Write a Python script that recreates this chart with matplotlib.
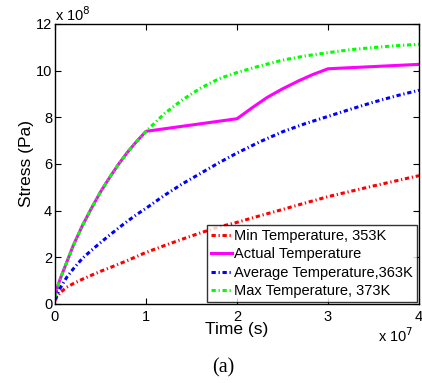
import matplotlib
matplotlib.use("Agg")
import matplotlib.pyplot as plt

plt.rcParams['font.family'] = ['Liberation Sans', 'DejaVu Sans']

# time in units of 1e7 s, stress in units of 1e8 Pa
t_smooth = [0, 0.02, 0.06, 0.13, 0.2, 0.3, 0.4, 0.5, 0.6, 0.7, 0.8, 0.9, 1.0,
            1.2, 1.4, 1.6, 1.8, 2.0, 2.25, 2.5, 2.75, 3.0, 3.25, 3.5, 3.75, 4.0]
min_temp = [0.15, 0.29, 0.5, 0.72, 0.87, 1.06, 1.23, 1.4, 1.55, 1.71, 1.87, 2.04, 2.21,
            2.5, 2.78, 3.05, 3.3, 3.5, 3.78, 4.05, 4.33, 4.6, 4.83, 5.06, 5.28, 5.5]
avg_temp = [0.2, 0.36, 0.7, 1.15, 1.5, 1.95, 2.3, 2.63, 2.95, 3.26, 3.56, 3.84, 4.1,
            4.65, 5.15, 5.6, 6.05, 6.47, 6.95, 7.38, 7.73, 8.04, 8.35, 8.65, 8.92, 9.16]
max_temp = [0.3, 0.65, 1.1, 1.8, 2.5, 3.35, 4.1, 4.8, 5.42, 6.0, 6.52, 6.98, 7.4,
            8.15, 8.75, 9.25, 9.65, 9.92, 10.2, 10.45, 10.63, 10.77, 10.9, 10.99, 11.07, 11.13]
t_actual = [0, 0.02, 0.06, 0.13, 0.2, 0.3, 0.4, 0.5, 0.6, 0.7, 0.8, 0.9, 1.0,
            2.0, 2.17, 2.33, 2.5, 2.67, 2.83, 3.0, 4.0]
actual_temp = [0.3, 0.65, 1.1, 1.8, 2.5, 3.35, 4.1, 4.8, 5.42, 6.0, 6.52, 6.98, 7.4,
               7.94, 8.42, 8.85, 9.22, 9.55, 9.83, 10.08, 10.27]

labels = ['Min Temperature, 353K', 'Actual Temperature',
          'Average Temperature,363K', 'Max Temperature, 373K']
xticks = [0, 1, 2, 3, 4]
yticks = [0, 2, 4, 6, 8, 10, 12]

fig = plt.figure(figsize=(4.22, 3.83), dpi=100)
ax = fig.add_axes([0.1303, 0.2063, 0.8627, 0.7311])

dd = (0, (1.4, 0.9, 0.4, 0.9))
lw = 2.2
ax.plot(t_smooth, min_temp, color=(1, 0, 0), lw=lw, ls=dd, label=labels[0])
ax.plot(t_actual, actual_temp, color=(1, 0, 1), lw=lw, ls='-', label=labels[1])
ax.plot(t_smooth, avg_temp, color=(0, 0, 1), lw=lw, ls=dd, label=labels[2])
ax.plot(t_smooth, max_temp, color=(0, 1, 0), lw=lw, ls=dd, label=labels[3])

ax.set_xlim(0, 4)
ax.set_ylim(0, 12)
ax.set_xticks(xticks)
ax.set_yticks(yticks)
ax.set_xticklabels([str(v) for v in xticks])
ax.set_yticklabels([str(v) for v in yticks])
ax.tick_params(direction='in', top=True, right=True, labelsize=10.5, length=4, width=0.8, pad=2)
ax.tick_params(axis='x', pad=4)
for s in ax.spines.values():
    s.set_linewidth(1.0)

ax.set_xlabel('Time (s)', fontsize=12.5, labelpad=-1)
ax.set_ylabel('Stress (Pa)', fontsize=12.5, labelpad=1)

ax.text(0.0, 1.0, r'x 10$^{8}$', transform=ax.transAxes, fontsize=10.5, ha='left', va='bottom')
ax.text(0.985, -0.08, r'x 10$^{7}$', transform=ax.transAxes, fontsize=10.5, ha='right', va='top')

leg = ax.legend(loc='lower right', fontsize=10.5, frameon=True, fancybox=False,
                edgecolor='black', borderpad=0.25, labelspacing=0.3, handlelength=1.4,
                handletextpad=0.2, borderaxespad=0.15)
leg.get_frame().set_linewidth(1.0)

fig.text(0.528, 0.039, '(a)', fontsize=14.5, family='Liberation Serif', ha='center', va='center')

fig.savefig('out.png', dpi=100)
